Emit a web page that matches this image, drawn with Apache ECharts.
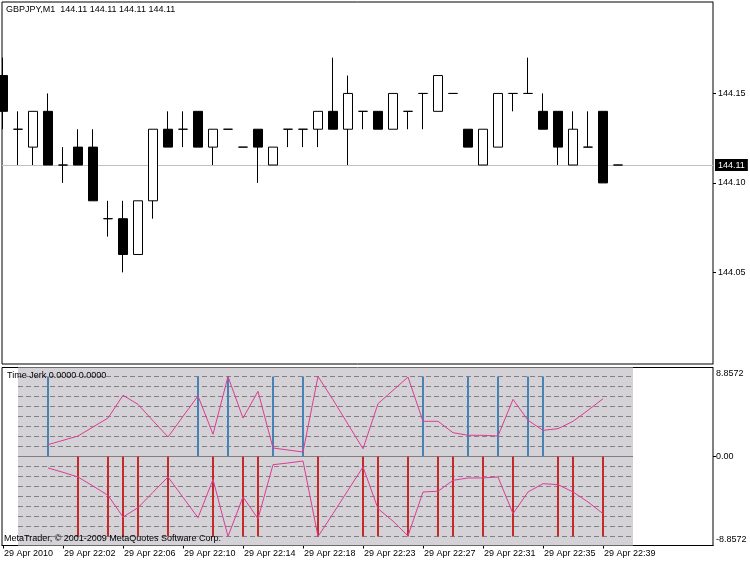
<!DOCTYPE html>
<html><head><meta charset="utf-8">
<script src="https://cdn.jsdelivr.net/npm/echarts@6/dist/echarts.min.js"></script>
<style>html,body{margin:0;padding:0;background:#fff}#c{width:750px;height:563px}</style>
</head><body><div id="c"></div>
<script>
// ---- price data (one bar per minute, index = bar position) ----
const barIndex = [0,1,2,3,4,5,6,7,8,9,10,11,12,13,14,15,16,17,18,19,20,21,22,23,24,25,26,27,28,29,30,31,32,33,34,35,36,37,38,39,40,41];
const opens  = [144.16,144.13,144.12,144.14,144.11,144.12,144.12,144.08,144.08,144.06,144.09,144.13,144.13,144.14,144.12,144.13,144.12,144.13,144.11,144.13,144.13,144.13,144.14,144.13,144.14,144.14,144.13,144.14,144.15,144.14,144.15,144.13,144.11,144.12,144.15,144.15,144.14,144.14,144.11,144.12,144.14,144.11];
const closes = [144.14,144.13,144.14,144.11,144.11,144.11,144.09,144.08,144.06,144.09,144.13,144.12,144.13,144.12,144.13,144.13,144.12,144.12,144.12,144.13,144.13,144.14,144.13,144.15,144.14,144.13,144.15,144.14,144.15,144.16,144.15,144.12,144.13,144.15,144.15,144.15,144.13,144.12,144.13,144.12,144.10,144.11];
const lows   = [144.13,144.11,144.11,144.11,144.10,144.11,144.09,144.07,144.05,144.06,144.08,144.12,144.12,144.12,144.11,144.13,144.12,144.10,144.11,144.12,144.12,144.12,144.13,144.11,144.13,144.13,144.13,144.13,144.13,144.14,144.15,144.12,144.11,144.12,144.14,144.15,144.13,144.11,144.11,144.12,144.10,144.11];
const highs  = [144.17,144.14,144.14,144.15,144.12,144.13,144.13,144.09,144.09,144.09,144.13,144.14,144.14,144.14,144.13,144.13,144.12,144.13,144.12,144.13,144.13,144.14,144.17,144.16,144.14,144.14,144.15,144.14,144.15,144.16,144.15,144.13,144.13,144.15,144.15,144.17,144.15,144.14,144.14,144.14,144.14,144.11];
const lastPrice = 144.11;
const priceTicks = [144.05, 144.10, 144.15];

// ---- time axis ----
const timeLabelBars = [0,4,8,12,16,20,24,28,32,36,40];
const timeLabels = ['29 Apr 2010','29 Apr 22:02','29 Apr 22:06','29 Apr 22:10','29 Apr 22:14','29 Apr 22:18','29 Apr 22:23','29 Apr 22:27','29 Apr 22:31','29 Apr 22:35','29 Apr 22:39'];

// ---- Time Jerk indicator ----
const jerkStartBar = 3;
const jerkUpper = [1.31,1.79,2.27,3.27,4.26,6.78,5.78,3.96,2.16,4.45,6.70,2.47,8.86,4.26,7.22,0.94,0.72,0.50,8.86,6.29,3.57,0.86,5.85,7.33,8.80,3.90,3.90,2.64,2.35,2.35,2.27,6.33,4.01,2.90,3.08,3.90,5.12,6.40];
const jerkLower = [-1.27,-1.75,-2.27,-3.27,-4.30,-6.71,-5.67,-3.96,-2.27,-4.52,-6.78,-2.55,-8.86,-4.48,-6.89,-0.91,-0.72,-0.50,-8.86,-6.33,-3.74,-1.16,-5.78,-7.16,-8.80,-3.93,-3.85,-2.64,-2.38,-2.38,-2.27,-6.33,-3.93,-3.01,-3.12,-3.93,-5.04,-6.33];
const blueBars = [3,13,15,18,20,28,31,33,35,36];
const redBars  = [5,7,8,9,11,14,16,17,21,24,25,27,29,30,32,34,37,38,40];
const jerkMax = 8.8572;
const jerkLevels = [8.86,7.75,6.64,5.54,4.43,3.32,2.21,1.11,-1.11,-2.21,-3.32,-4.43,-5.54,-6.64,-7.75,-8.86];
const shadeFromBar = 1, shadeToBar = 42;

const FONT = 'Liberation Sans';
const xMin = -0.0667, xMax = 47.3333;
const yMin2 = -9.86, yMax2 = 9.86;

const candleData = barIndex.map((b, i) => [b, opens[i], closes[i], lows[i], highs[i]]);
const upperData = jerkUpper.map((v, i) => [jerkStartBar + i, v]);
const lowerData = jerkLower.map((v, i) => [jerkStartBar + i, v]);
const blueData = blueBars.map(b => [b, jerkMax]);
const redData = redBars.map(b => [b, -jerkMax]);

const chart = echarts.init(document.getElementById('c'), null, {renderer: 'canvas'});
chart.setOption({
  animation: false,
  backgroundColor: '#ffffff',
  grid: [
    {left: 2, top: 2, width: 711, height: 362, show: true, borderColor: '#000', borderWidth: 1, backgroundColor: '#fff'},
    {left: 2, top: 367.5, width: 711, height: 178, show: true, borderColor: '#000', borderWidth: 1, backgroundColor: '#fff'}
  ],
  xAxis: [
    {type: 'value', gridIndex: 0, min: xMin, max: xMax, show: false, axisLine: {onZero: false}},
    {type: 'value', gridIndex: 1, min: xMin, max: xMax, position: 'bottom',
     axisLine: {show: true, onZero: false, lineStyle: {color: '#000'}},
     axisTick: {show: true, customValues: timeLabelBars, length: 3, lineStyle: {color: '#000'}},
     axisLabel: {show: true, customValues: timeLabelBars, align: 'left', margin: 4, padding: [0,0,0,1],
       fontFamily: FONT, fontSize: 9, color: '#000',
       formatter: v => timeLabels[timeLabelBars.indexOf(Math.round(v))] || ''},
     splitLine: {show: false}}
  ],
  yAxis: [
    {type: 'value', gridIndex: 0, position: 'right', min: 143.9988, max: 144.2011,
     axisLine: {show: true, onZero: false, lineStyle: {color: '#808080'}},
     axisTick: {show: true, customValues: priceTicks, length: 3, lineStyle: {color: '#000'}},
     axisLabel: {show: true, customValues: priceTicks, margin: 5, fontFamily: FONT, fontSize: 9, color: '#000',
       formatter: v => v.toFixed(2)},
     splitLine: {show: false}},
    {type: 'value', gridIndex: 1, position: 'right', min: yMin2, max: yMax2,
     axisLine: {show: true, onZero: false, lineStyle: {color: '#808080'}},
     axisTick: {show: true, customValues: [0], length: 3, lineStyle: {color: '#000'}},
     axisLabel: {show: true, customValues: [jerkMax, 0, -jerkMax], margin: 3, fontFamily: FONT, fontSize: 9, color: '#000',
       formatter: v => v > 0 ? '{t|' + v.toFixed(4) + '}' : (v < 0 ? '{b|' + v.toFixed(4) + '}' : '0.00'),
       rich: {t: {fontFamily: FONT, fontSize: 9, color: '#000', padding: [0,0,6,0]},
              b: {fontFamily: FONT, fontSize: 9, color: '#000', padding: [7,0,0,0]}}},
     splitLine: {show: false}}
  ],
  series: [
    {type: 'candlestick', xAxisIndex: 0, yAxisIndex: 0, data: candleData, barWidth: 9, z: 3,
     itemStyle: {color: '#ffffff', color0: '#000000', borderColor: '#000000', borderColor0: '#000000', borderColorDoji: '#000000', borderWidth: 1},
     markLine: {silent: true, symbol: 'none', z: 1, animation: false,
       data: [{yAxis: lastPrice}],
       lineStyle: {color: '#c0c0c0', type: 'solid', width: 1},
       label: {show: true, position: 'end', distance: 2, formatter: lastPrice.toFixed(2),
         backgroundColor: '#000', color: '#fff', padding: [2,3,1,3], fontFamily: FONT, fontSize: 9}}},
    {type: 'bar', name: 'up', xAxisIndex: 1, yAxisIndex: 1, data: blueData, barWidth: 2, barGap: '-100%', z: 2,
     itemStyle: {color: '#4682b4'},
     markArea: {silent: true, z: 1,
       itemStyle: {color: '#d4d2d6'},
       data: [[{coord: [shadeFromBar, yMin2]}, {coord: [shadeToBar, yMax2]}]]}},
    {type: 'bar', name: 'down', xAxisIndex: 1, yAxisIndex: 1, data: redData, barWidth: 2, barGap: '-100%', z: 2,
     itemStyle: {color: '#c42a2a'},
     markLine: {silent: true, symbol: 'none', z: 1.5, animation: false, label: {show: false},
       lineStyle: {color: '#808080', type: [5,3], width: 1},
       data: jerkLevels.map(v => [{coord: [shadeFromBar, v]}, {coord: [shadeToBar, v]}])
         .concat([[{coord: [shadeFromBar, 0], lineStyle: {type: 'solid', color: '#808080'}}, {coord: [shadeToBar, 0]}]])}},
    {type: 'line', xAxisIndex: 1, yAxisIndex: 1, data: upperData, symbol: 'none', z: 4,
     lineStyle: {color: '#dd3c96', width: 1}},
    {type: 'line', xAxisIndex: 1, yAxisIndex: 1, data: lowerData, symbol: 'none', z: 4,
     lineStyle: {color: '#dd3c96', width: 1}}
  ],
  graphic: [
    {type: 'text', left: 6, top: 5, z: 100, style: {text: 'GBPJPY,M1  144.11 144.11 144.11 144.11', font: '9px "' + FONT + '"', fill: '#000'}},
    {type: 'text', left: 7, top: 371, z: 100, style: {text: 'Time Jerk 0.0000 0.0000', font: '9px "' + FONT + '"', fill: '#000'}},
    {type: 'text', left: 4, top: 534, z: 100, style: {text: 'MetaTrader, \u00a9 2001-2009 MetaQuotes Software Corp.', font: '9px "' + FONT + '"', fill: '#000'}}
  ]
});
</script></body></html>
